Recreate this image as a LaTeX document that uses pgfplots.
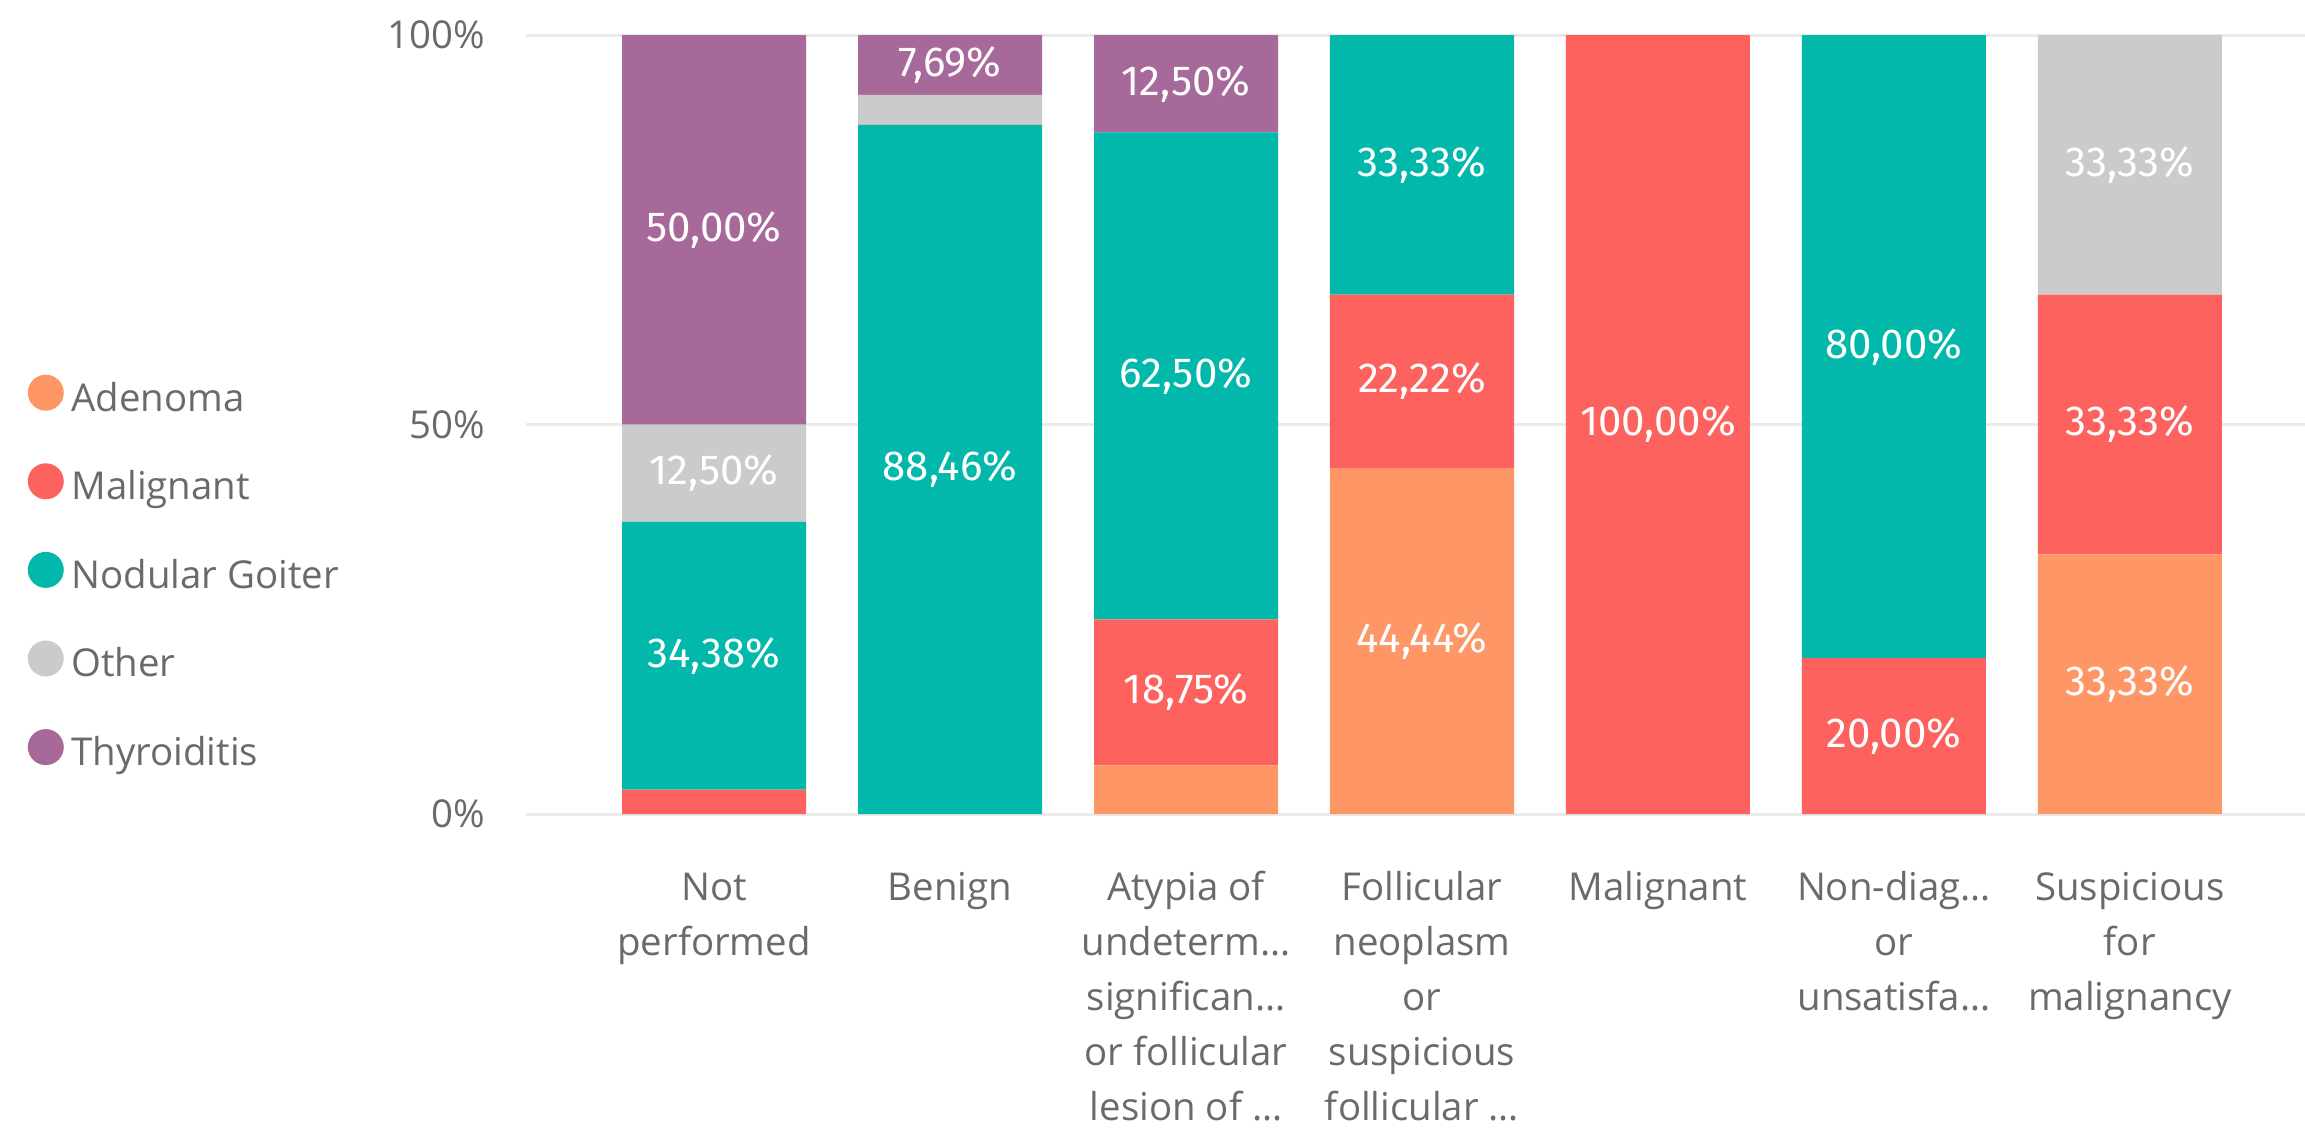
\documentclass[border=0pt]{standalone}
\usepackage{fontspec}
\setmainfont{Open Sans}
\newfontfamily\labfont{Fira Sans}
\usepackage{pgfplots}
\pgfplotsset{compat=1.18}
\usepackage{pgfplotstable}
\definecolor{cA}{HTML}{FE9666}
\definecolor{cM}{HTML}{FD625E}
\definecolor{cN}{HTML}{01B8AA}
\definecolor{cO}{HTML}{CBCBCB}
\definecolor{cT}{HTML}{A66999}
\definecolor{txt}{HTML}{6A6A6A}
\definecolor{gridc}{HTML}{EAEAEA}
\pgfplotstableread{
x A M N O T
0 0 3.12 34.38 12.5 50
1 0 0 88.46 3.85 7.69
2 6.25 18.75 62.5 0 12.5
3 44.44 22.22 33.33 0 0
4 0 100 0 0 0
5 0 20 80 0 0
6 33.33 33.33 0 33.33 0
}\data
\begin{document}
\begin{tikzpicture}
\path[use as bounding box] (0,0) rectangle (576.25pt,282.25pt);
\begin{axis}[
  at={(131.5pt,78.75pt)}, anchor=south west,
  scale only axis, width=444.75pt, height=194.75pt,
  xmin=-0.797, xmax=6.742, ymin=0, ymax=100,
  ybar stacked, bar width=46pt,
  axis line style={draw=none}, tick style={draw=none}, major tick length=0pt,
  ymajorgrids, grid style={draw=gridc, line width=0.75pt},
  ytick={0,50,100}, yticklabels={0\%,50\%,100\%},
  yticklabel style={font=\fontsize{9.6}{11}\selectfont, text=txt, inner sep=0pt, anchor=east, xshift=-10pt},
  xtick={0,...,6},
  xticklabels={{\strut Not\\performed},{\strut Benign},{\strut Atypia of\\undeterm…\\significan…\\or follicular\\lesion of …},{\strut Follicular\\neoplasm\\or\\suspicious\\follicular …},{\strut Malignant},{\strut Non-diag…\\or\\unsatisfa…},{\strut Suspicious\\for\\malignancy}},
  xticklabel style={font=\fontsize{9.6}{13.75}\selectfont, text=txt, align=center, anchor=north, inner sep=0pt, yshift=-11.875pt},
  visualization depends on=rawy \as \rawy,
  nodes near coords={\ifdim\rawy pt<7pt\relax\else\pgfmathprintnumber[fixed,fixed zerofill,precision=2,use comma,assume math mode=true]{\rawy}\%\fi},
  every axis plot post/.append style={
     draw=none,
     legend image code/.code={\fill[##1] (4.5pt,2.1pt) circle (4.5pt);},
     every node near coord/.style={anchor=center, text=white, font=\labfont\fontsize{10.5}{12}\selectfont, inner sep=0pt},
  },
  legend style={at={(axis description cs:-0.2805,0.308)}, anchor=west, draw=none, fill=none, inner sep=0pt, row sep=11.05pt, font=\fontsize{9.6}{11}\selectfont, text=txt, nodes={inner sep=0pt, text height=7pt, text depth=2pt}, /tikz/every odd column/.append style={column sep=1.9pt}},
  legend cell align=left,
]
\addplot[fill=cA] table[x=x,y=A] {\data};
\addplot[fill=cM] table[x=x,y=M] {\data};
\addplot[fill=cN] table[x=x,y=N] {\data};
\addplot[fill=cO] table[x=x,y=O] {\data};
\addplot[fill=cT] table[x=x,y=T] {\data};
\legend{Adenoma,Malignant,Nodular Goiter,Other,Thyroiditis}
\end{axis}
\end{tikzpicture}
\end{document}
